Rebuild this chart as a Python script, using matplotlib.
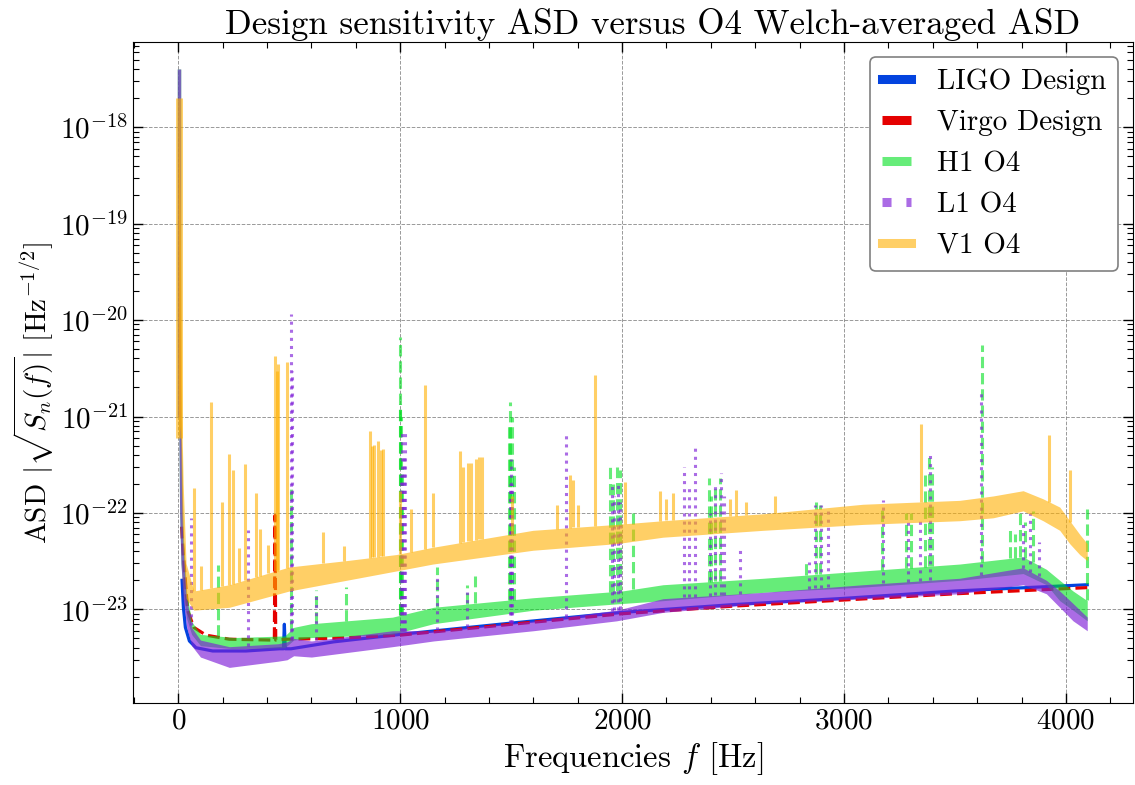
import numpy as np
import matplotlib
matplotlib.use('Agg')
import matplotlib.pyplot as plt
from matplotlib.lines import Line2D
from matplotlib.ticker import AutoMinorLocator, LogLocator, NullFormatter

# ---- design curves (frequency [Hz], ASD) ----
ligo_f = [17, 23, 32, 50, 80, 155, 305, 456, 474, 478, 482, 490, 508, 700,
          1000, 1500, 2000, 2500, 3000, 3500, 4096]
ligo_asd = [2.0e-23, 1.05e-23, 6.5e-24, 4.7e-24, 4.0e-24, 3.7e-24, 3.7e-24,
            3.9e-24, 3.9e-24, 7.0e-24, 3.9e-24, 3.9e-24, 3.9e-24, 4.6e-24,
            5.5e-24, 7.2e-24, 9.3e-24, 1.12e-23, 1.3e-23, 1.55e-23, 1.8e-23]

virgo_f = [15, 20, 27, 42, 70, 125, 230, 425, 433, 436, 439, 486, 700, 1000,
           1500, 2000, 2500, 3000, 3500, 4096]
virgo_asd = [7.2e-23, 4.5e-23, 2.8e-23, 9.8e-24, 6.5e-24, 5.4e-24, 4.9e-24,
             4.8e-24, 4.8e-24, 9.4e-23, 4.8e-24, 4.9e-24, 5.0e-24, 5.4e-24,
             7.0e-24, 9.0e-24, 1.08e-23, 1.25e-23, 1.45e-23, 1.68e-23]

# ---- O4 Welch ASD: noise band (lower / upper envelope) ----
h1_f = [1.5, 6, 12, 22, 38, 60, 100, 250, 480, 520, 600, 965, 1150, 1600,
        2000, 2184, 2635, 3085, 3521, 3807, 3912, 3972, 4032, 4096]
h1_lo = [1e-21, 1e-22, 3e-23, 1.5e-23, 8e-24, 5.5e-24, 4.2e-24, 3.9e-24,
         4.0e-24, 4.8e-24, 5.1e-24, 5.5e-24, 7.1e-24, 9.8e-24, 1.15e-23,
         1.23e-23, 1.5e-23, 1.7e-23, 2.0e-23, 2.35e-23, 1.8e-23, 1.23e-23,
         9.8e-24, 7.6e-24]
h1_hi = [4e-18, 1e-20, 1e-21, 6e-23, 1.5e-23, 7.5e-24, 5.5e-24, 5.1e-24,
         5.3e-24, 6.5e-24, 7.1e-24, 8.3e-24, 1.05e-23, 1.32e-23, 1.55e-23,
         1.8e-23, 2.1e-23, 2.5e-23, 2.95e-23, 3.5e-23, 2.6e-23, 2.0e-23,
         1.55e-23, 1.23e-23]

l1_f = [1.5, 6, 12, 22, 38, 60, 100, 230, 450, 490, 520, 600, 965, 1150,
        1600, 1975, 2184, 2635, 3085, 3521, 3807, 3912, 3972, 4032, 4096]
l1_lo = [1e-21, 1e-22, 3e-23, 1.3e-23, 6.5e-24, 4.2e-24, 3.2e-24, 2.5e-24,
         2.9e-24, 3.0e-24, 3.3e-24, 3.2e-24, 4.1e-24, 4.7e-24, 6.0e-24,
         7.6e-24, 9.3e-24, 1.15e-23, 1.29e-23, 1.45e-23, 1.8e-23, 1.45e-23,
         1.05e-23, 7.6e-24, 6.0e-24]
l1_hi = [4e-18, 1e-20, 1e-21, 5e-23, 1.3e-23, 6.5e-24, 4.8e-24, 4.1e-24,
         4.4e-24, 4.6e-24, 5.0e-24, 4.7e-24, 6.0e-24, 6.0e-24, 7.6e-24,
         9.8e-24, 1.29e-23, 1.5e-23, 1.8e-23, 2.1e-23, 2.7e-23, 2.0e-23,
         1.55e-23, 1.15e-23, 8.3e-24]

v1_f = [1, 10, 16, 22, 35, 70, 230, 500, 757, 982, 1147, 1598, 1974, 2184,
        2635, 3085, 3521, 3672, 3807, 3897, 3972, 4017, 4062, 4096]
v1_lo = [6e-22, 8e-22, 1e-22, 4e-23, 1.3e-23, 9.8e-24, 1.05e-23, 1.55e-23,
         2e-23, 2.5e-23, 2.95e-23, 4.1e-23, 4.8e-23, 5.6e-23, 6.6e-23,
         7.6e-23, 8.3e-23, 8.9e-23, 1.05e-22, 8.3e-23, 6.6e-23, 4.8e-23,
         3.7e-23, 3.2e-23]
v1_hi = [2e-18, 5e-20, 1e-21, 2e-22, 3e-23, 1.55e-23, 1.8e-23, 2.75e-23,
         3.2e-23, 3.7e-23, 4.4e-23, 6.6e-23, 7.6e-23, 8.3e-23, 9.8e-23,
         1.23e-22, 1.35e-22, 1.5e-22, 1.7e-22, 1.4e-22, 1.15e-22, 8.3e-23,
         6e-23, 4.8e-23]

# ---- spectral lines (frequency, peak ASD) ----
h1_line_f = [178, 508, 620, 756, 998, 1001, 1004, 1010, 1167, 1300, 1336,
             1490, 1497, 1505, 1512, 1945, 1960, 1975, 1990, 2050, 2390,
             2400, 2420, 2443, 2830, 2875, 2890, 3173, 3280, 3300, 3365,
             3383, 3395, 3622, 3748, 3770, 3793, 3815, 3853, 4094]
h1_line_top = [2.9e-23, 2e-22, 1.6e-23, 1.7e-23, 1.35e-21, 6.7e-21, 1.0e-21,
               3e-22, 2.75e-23, 1.8e-23, 2.2e-23, 8.3e-22, 1.4e-21, 1e-21,
               3e-22, 3e-22, 2e-22, 3e-22, 2.8e-22, 1e-22, 2.3e-22, 1.5e-22,
               2e-22, 2.3e-22, 3.3e-23, 1.3e-22, 1.2e-22, 1.15e-22, 1e-22,
               1e-22, 2.5e-22, 3.8e-22, 3e-22, 5.5e-21, 6.8e-23, 6e-23,
               1.05e-22, 8e-23, 1.05e-22, 1.1e-22]

l1_line_f = [58, 313, 508, 512, 621, 1003, 1010, 1015, 1020, 1167, 1300,
             1495, 1499, 1505, 1748, 1955, 1965, 1980, 1990, 2277, 2301,
             2327, 2395, 2420, 2447, 2460, 2533, 2844, 2870, 2897, 2930,
             3176, 3290, 3341, 3386, 3619, 3807, 3840, 3879]
l1_line_top = [8.9e-23, 6.6e-23, 1.15e-20, 3e-21, 1.5e-23, 2.5e-22, 7.4e-22,
               4e-22, 7.4e-22, 2.3e-23, 1.5e-23, 2e-22, 3.6e-22, 2e-22,
               6.6e-22, 2e-22, 1.5e-22, 2e-22, 1.3e-22, 3e-22, 1.8e-22,
               5.2e-22, 1e-22, 2e-22, 2.6e-22, 1.5e-22, 4.5e-23, 3.1e-23,
               1.2e-22, 1.2e-22, 1.1e-22, 1.35e-22, 8.3e-23, 9e-23, 4.4e-22,
               1.8e-21, 8e-23, 1e-22, 5e-23]

v1_line_f = [73, 103, 148, 197, 227, 248, 275, 300, 348, 366, 406, 438, 443,
             448, 489, 651, 749, 864, 875, 884, 902, 912, 921, 1000, 1050,
             1110, 1147, 1271, 1285, 1305, 1320, 1340, 1355, 1370, 1503,
             1706, 1763, 1778, 1800, 1876, 2014, 2169, 2200, 2230, 2485,
             2512, 2560, 2688, 3345, 3924, 4020]
v1_line_top = [1.8e-22, 2.8e-23, 1.4e-21, 1.3e-22, 4.1e-22, 2.8e-22, 4.3e-23,
               3.2e-22, 1.6e-22, 6.8e-23, 4.7e-23, 4.2e-21, 3e-21, 3.5e-21,
               3.7e-21, 6.3e-23, 4.5e-23, 7.1e-22, 5e-22, 5.1e-22, 5.6e-22,
               4.5e-22, 4.6e-22, 1.7e-22, 1.1e-22, 2.1e-21, 1.6e-22, 4.4e-22,
               3e-22, 3.3e-22, 3.3e-22, 3.6e-22, 3.8e-22, 3.8e-22, 1.5e-22,
               1.2e-22, 2.5e-22, 2.2e-22, 1.2e-22, 2.7e-21, 2.1e-22, 1.7e-22,
               1.4e-22, 1.6e-22, 1.4e-22, 1.74e-22, 1.3e-22, 1.5e-22, 8.3e-22,
               6.5e-22, 2.8e-22]

ligo_color = '#0343df'
virgo_color = '#e50000'
h1_color = '#00e020'
l1_color = '#7e1ed8'
v1_color = '#ffb000'

plt.rcParams['font.family'] = 'serif'
plt.rcParams['font.serif'] = ['cmr10']
plt.rcParams['mathtext.fontset'] = 'cm'
plt.rcParams['axes.formatter.use_mathtext'] = True
plt.rcParams['axes.unicode_minus'] = False
plt.rcParams['font.size'] = 21


def draw_series(ax, f, lo, hi, line_f, line_top, color, alpha, ls, z, wall_lw):
    ax.fill_between(f, lo, hi, color=color, alpha=alpha, lw=0, zorder=z)
    # low-frequency wall (first bin) drawn as a thick line
    ax.vlines(f[0], lo[0], hi[0], colors=color, alpha=alpha, lw=wall_lw, zorder=z)
    base = 10 ** np.interp(line_f, f, np.log10(hi))
    ax.vlines(line_f, base, line_top, colors=color, alpha=alpha,
              linestyles=ls, lw=2.2, zorder=z)


fig = plt.figure(figsize=(11.35, 7.85), dpi=100)
ax = fig.add_subplot(111)
fig.subplots_adjust(left=0.117, right=0.998, top=0.946, bottom=0.104)

ax.plot(ligo_f, ligo_asd, color=ligo_color, lw=2.3, zorder=2)
ax.plot(virgo_f, virgo_asd, color=virgo_color, lw=2.3, ls='--', zorder=2)
draw_series(ax, h1_f, h1_lo, h1_hi, h1_line_f, h1_line_top, h1_color, 0.6, '--', 3, 2.5)
draw_series(ax, l1_f, l1_lo, l1_hi, l1_line_f, l1_line_top, l1_color, 0.65, ':', 4, 2.5)
draw_series(ax, v1_f, v1_lo, v1_hi, v1_line_f, v1_line_top, v1_color, 0.6, '-', 5, 5)

ax.set_yscale('log')
ax.set_xlim(-205, 4301)
ax.set_ylim(10 ** -23.975, 10 ** -17.12)
ax.set_xticks([0, 1000, 2000, 3000, 4000])
ax.set_yticks([1e-23, 1e-22, 1e-21, 1e-20, 1e-19, 1e-18])
ax.xaxis.set_minor_locator(AutoMinorLocator(5))
ax.yaxis.set_minor_locator(LogLocator(base=10, subs=np.arange(2, 10)))
ax.yaxis.set_minor_formatter(NullFormatter())
ax.tick_params(which='both', direction='in', top=True, right=True)
ax.tick_params(which='major', length=7, width=1)
ax.tick_params(which='minor', length=4, width=0.8)
ax.grid(True, which='major', ls='--', color='gray', lw=0.7, alpha=0.8)
for s in ax.spines.values():
    s.set_linewidth(0.8)

ax.set_title('Design sensitivity ASD versus O4 Welch-averaged ASD', x=0.52)
ax.set_xlabel(r'Frequencies $f$ [Hz]', fontsize=23.5)
ax.set_ylabel(r'ASD $|\sqrt{S_n(f)}|$ [Hz$^{-1/2}$]')
ax.yaxis.set_label_coords(-0.077, 0.47)

handles = [
    Line2D([], [], color=ligo_color, lw=6.5),
    Line2D([], [], color=virgo_color, lw=6.5, ls='--'),
    Line2D([], [], color=h1_color, alpha=0.6, lw=6.5, ls='--'),
    Line2D([], [], color=l1_color, alpha=0.65, lw=6.5, ls=':'),
    Line2D([], [], color=v1_color, alpha=0.6, lw=6.5),
]
labels = ['LIGO Design', 'Virgo Design', 'H1 O4', 'L1 O4', 'V1 O4']
leg = ax.legend(handles, labels, loc='upper right', handlelength=1.0,
                handletextpad=0.9, fancybox=True, framealpha=1,
                edgecolor='gray')
leg.get_frame().set_linewidth(1.2)

plt.savefig('out.png', dpi=100)
